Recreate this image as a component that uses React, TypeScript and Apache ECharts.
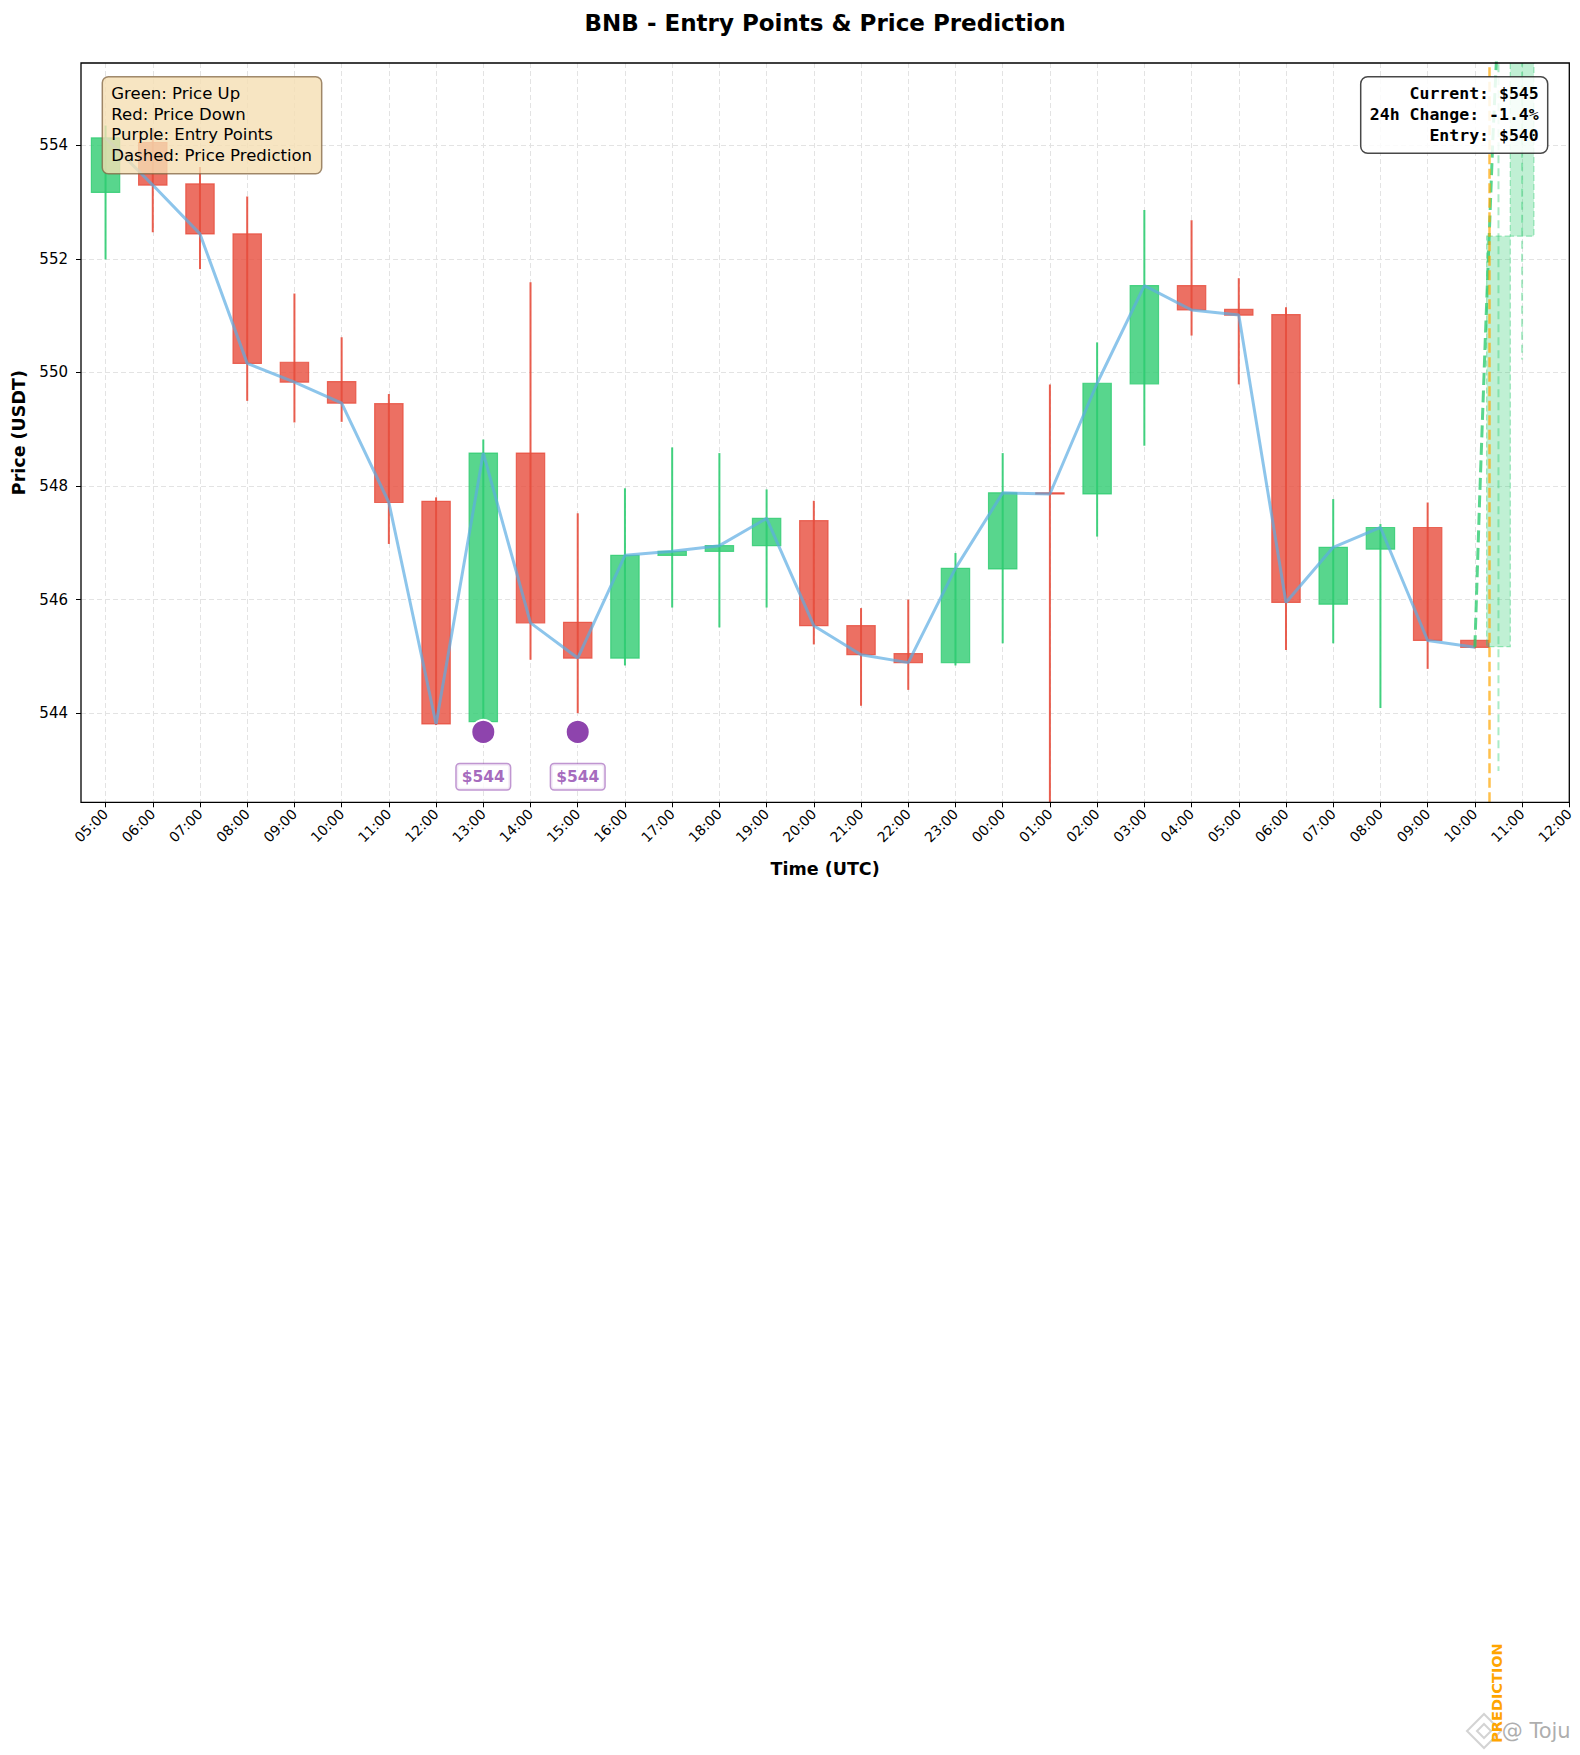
import React, { useEffect, useRef } from 'react';
import * as echarts from 'echarts';

// ---------- data ----------
const xTickLabels = [
  '05:00', '06:00', '07:00', '08:00', '09:00', '10:00', '11:00', '12:00', '13:00', '14:00',
  '15:00', '16:00', '17:00', '18:00', '19:00', '20:00', '21:00', '22:00', '23:00', '00:00',
  '01:00', '02:00', '03:00', '04:00', '05:00', '06:00', '07:00', '08:00', '09:00', '10:00',
  '11:00', '12:00',
];
// hour offsets from the first tick (05:00)
const candleHours = [
  0, 1, 2, 3, 4, 5, 6, 7, 8, 9, 10, 11, 12, 13, 14, 15, 16, 17, 18, 19, 20, 21, 22, 23, 24, 25, 26, 27, 28, 29,
];
const opens = [
  553.17, 554.05, 553.32, 552.44, 550.18, 549.84, 549.45, 547.73, 543.85, 548.58,
  545.6, 544.97, 546.78, 546.85, 546.95, 547.39, 545.54, 545.05, 544.89, 546.54,
  547.88, 547.86, 549.8, 551.53, 551.11, 551.02, 545.92, 546.89, 547.27, 545.28,
];
const closes = [
  554.13, 553.3, 552.44, 550.16, 549.83, 549.46, 547.71, 543.81, 548.58, 545.59,
  544.97, 546.78, 546.85, 546.95, 547.43, 545.54, 545.03, 544.89, 546.55, 547.88,
  547.86, 549.81, 551.53, 551.1, 551.01, 545.95, 546.92, 547.27, 545.28, 545.16,
];
const lows = [
  551.99, 552.47, 551.82, 549.5, 549.12, 549.13, 546.98, 543.79, 543.75, 544.94,
  544.0, 544.84, 545.86, 545.51, 545.86, 545.21, 544.13, 544.41, 544.84, 545.23,
  542.0, 547.11, 548.71, 550.65, 549.79, 545.11, 545.23, 544.09, 544.78, 545.14,
];
const highs = [
  554.35, 554.3, 553.62, 553.1, 551.39, 550.62, 549.62, 547.8, 548.82, 551.59,
  547.52, 547.96, 548.68, 548.58, 547.94, 547.74, 545.85, 546.0, 546.82, 548.58,
  549.79, 550.53, 552.86, 552.68, 551.66, 551.15, 547.77, 547.33, 547.71, 545.3,
];

const predCandleHours = [29.5, 30.0];
const predOpens = [545.17, 552.4];
const predCloses = [552.4, 557.5];
const predLows = [542.98, 550.23];
const predHighs = [556.8, 558.5];

const predLineHours = [29.0, 29.1, 29.22, 29.38, 29.5];
const predLinePrices = [545.16, 547.75, 550.57, 554.09, 556.3];
const predictionStartHour = 29.31;

const entryHours = [8, 10];
const entryMarkPrices = [543.67, 543.67];
const entryLabelPrices = [542.88, 542.88];
const entryLabels = ['$544', '$544'];

const legendLines = ['Green: Price Up', 'Red: Price Down', 'Purple: Entry Points', 'Dashed: Price Prediction'];
const infoLines = ['Current: $545', '24h Change: -1.4%', 'Entry: $540'];

const titleText = 'BNB - Entry Points & Price Prediction';
const xAxisName = 'Time (UTC)';
const yAxisName = 'Price (USDT)';
const predictionText = 'PREDICTION';
const watermarkText = '@ Toju';

const xMin = -0.52;
const xMax = 31;
const yMin = 542.43;
const yMax = 555.45;
const yTickMin = 544;
const yTickMax = 554;
const yTickStep = 2;

// ---------- layout ----------
const W = 1580;
const H = 1755;
const plotLeft = 81;
const plotTop = 63;
const plotRight = 1569.3;
const plotBottom = 802.3;
const plotW = plotRight - plotLeft;
const plotH = plotBottom - plotTop;
const FONT = '"DejaVu Sans", "Liberation Sans", sans-serif';
const MONO = '"DejaVu Sans Mono", "Liberation Mono", monospace';

function makeRenderCandle(bodyWidth: number, pred: boolean) {
  return (params: any, api: any) => {
    const x = api.value(0);
    const o = api.value(1);
    const c = api.value(2);
    const l = api.value(3);
    const h = api.value(4);
    const po = api.coord([x, o]);
    const pc = api.coord([x, c]);
    const pl = api.coord([x, l]);
    const ph = api.coord([x, h]);
    const w = api.size([bodyWidth, 0])[0];
    const up = c >= o;
    const rgb = up ? '46,204,113' : '231,76,60';
    const top = Math.min(po[1], pc[1]);
    const hh = Math.max(Math.abs(po[1] - pc[1]), 1);
    if (pred) {
      return {
        type: 'group',
        children: [
          {
            type: 'line',
            shape: { x1: po[0], y1: ph[1], x2: po[0], y2: pl[1] },
            style: { stroke: 'rgba(46,204,113,0.4)', lineWidth: 2, lineDash: [8, 5] },
          },
          {
            type: 'rect',
            shape: { x: po[0] - w / 2, y: top, width: w, height: hh },
            style: { fill: 'rgba(46,204,113,0.3)', stroke: 'rgba(46,204,113,0.45)', lineWidth: 1.2, lineDash: [6, 3] },
          },
        ],
      };
    }
    return {
      type: 'group',
      children: [
        {
          type: 'rect',
          shape: { x: po[0] - w / 2, y: top, width: w, height: hh },
          style: { fill: `rgba(${rgb},0.8)`, stroke: `rgba(${rgb},0.8)`, lineWidth: 1.2 },
        },
        {
          type: 'line',
          shape: { x1: po[0], y1: ph[1], x2: po[0], y2: pl[1] },
          style: { stroke: `rgba(${rgb},0.9)`, lineWidth: 2 },
        },
      ],
    };
  };
}

function buildOption(): any {
  const gridBLeft = plotLeft + ((0 - xMin) / (xMax - xMin)) * plotW;
  const gridCTop = plotTop + ((yMax - yTickMax) / (yMax - yMin)) * plotH;
  const gridCBottom = plotTop + ((yMax - yTickMin) / (yMax - yMin)) * plotH;

  const candleData = candleHours.map((hr, i) => [hr, opens[i], closes[i], lows[i], highs[i]]);
  const predCandleData = predCandleHours.map((hr, i) => [hr, predOpens[i], predCloses[i], predLows[i], predHighs[i]]);
  const closeLine = candleHours.map((hr, i) => [hr, closes[i]]);
  const predLine = predLineHours.map((hr, i) => [hr, predLinePrices[i]]);
  const entryMarks = entryHours.map((hr, i) => [hr, entryMarkPrices[i]]);
  const entryLabelData = entryHours.map((hr, i) => ({ value: [hr, entryLabelPrices[i]], name: entryLabels[i] }));

  const dash = [5, 3];
  const gridColor = '#e3e3e3';

  return {
    animation: false,
    backgroundColor: '#ffffff',
    textStyle: { fontFamily: FONT },
    grid: [
      {
        left: plotLeft, top: plotTop, width: plotW, height: plotH,
        show: false, containLabel: false, outerBoundsMode: 'none',
      },
      {
        left: gridBLeft, top: plotTop, width: plotRight - gridBLeft, height: plotH,
        show: false, containLabel: false, outerBoundsMode: 'none',
      },
      {
        left: plotLeft, top: gridCTop, width: plotW, height: gridCBottom - gridCTop,
        show: false, containLabel: false, outerBoundsMode: 'none',
      },
    ],
    xAxis: [
      {
        type: 'value', gridIndex: 0, min: xMin, max: xMax,
        axisLine: { show: false }, axisTick: { show: false }, axisLabel: { show: false }, splitLine: { show: false },
      },
      {
        type: 'value', gridIndex: 1, min: 0, max: xTickLabels.length - 1, interval: 1, position: 'bottom',
        axisLine: { show: false },
        axisTick: { show: true, length: 5, lineStyle: { color: '#000', width: 1 } },
        axisLabel: {
          show: true, rotate: 45, margin: 9, fontSize: 14, color: '#000', fontFamily: FONT,
          formatter: (v: number) => xTickLabels[Math.round(v)] ?? '',
        },
        splitLine: { show: true, showMaxLine: false, lineStyle: { color: gridColor, width: 1, type: dash } },
      },
      {
        type: 'value', gridIndex: 2, min: 0, max: 1, show: false,
      },
    ],
    yAxis: [
      {
        type: 'value', gridIndex: 0, min: yMin, max: yMax,
        axisLine: { show: false }, axisTick: { show: false }, axisLabel: { show: false }, splitLine: { show: false },
      },
      {
        type: 'value', gridIndex: 1, min: 0, max: 1, show: false,
      },
      {
        type: 'value', gridIndex: 2, min: yTickMin, max: yTickMax, interval: yTickStep, position: 'left',
        axisLine: { show: false },
        axisTick: { show: true, length: 5, lineStyle: { color: '#000', width: 1 } },
        axisLabel: { show: true, margin: 13, fontSize: 15, color: '#000', fontFamily: FONT },
        splitLine: { show: true, lineStyle: { color: gridColor, width: 1, type: dash } },
      },
    ],
    series: [
      {
        type: 'custom', name: 'candles', xAxisIndex: 0, yAxisIndex: 0, clip: true, z: 2,
        renderItem: makeRenderCandle(0.6, false),
        data: candleData,
        encode: { x: 0, y: [1, 2, 3, 4] },
      },
      {
        type: 'custom', name: 'predCandles', xAxisIndex: 0, yAxisIndex: 0, clip: true, z: 2,
        renderItem: makeRenderCandle(0.5, true),
        data: predCandleData,
        encode: { x: 0, y: [1, 2, 3, 4] },
      },
      {
        type: 'line', name: 'close', xAxisIndex: 0, yAxisIndex: 0, z: 3,
        data: closeLine, showSymbol: false, symbol: 'none',
        lineStyle: { color: 'rgba(93,173,226,0.7)', width: 3 },
      },
      {
        type: 'line', name: 'prediction', xAxisIndex: 0, yAxisIndex: 0, z: 4, clip: true,
        data: predLine, showSymbol: false, symbol: 'none',
        lineStyle: { color: 'rgba(46,204,113,0.8)', width: 3, type: [12, 5.5] },
        markLine: {
          silent: true, symbol: ['none', 'none'], label: { show: false },
          lineStyle: { color: 'rgba(255,165,0,0.7)', width: 2.5, type: [10, 4.5] },
          data: [{ xAxis: predictionStartHour }],
        },
      },
      {
        type: 'scatter', name: 'entries', xAxisIndex: 0, yAxisIndex: 0, z: 5,
        data: entryMarks, symbolSize: 24,
        itemStyle: { color: '#8E44AD', borderColor: '#ffffff', borderWidth: 2, opacity: 1 },
      },
      {
        type: 'scatter', name: 'entryLabels', xAxisIndex: 0, yAxisIndex: 0, z: 6,
        data: entryLabelData, symbolSize: 1,
        itemStyle: { color: 'rgba(0,0,0,0)' },
        label: {
          show: true, position: 'inside', formatter: (p: any) => p.name,
          fontSize: 15.5, fontWeight: 'bold', color: '#8E44AD', fontFamily: FONT,
          backgroundColor: '#ffffff', borderColor: 'rgba(142,68,173,0.7)', borderWidth: 1.5, borderRadius: 3,
          padding: [4, 5, 3, 5], lineHeight: 18,
        },
      },
    ],
    graphic: [
      {
        type: 'rect', z: 90, silent: true,
        shape: { x: plotLeft, y: plotTop, width: plotW, height: plotH },
        style: { fill: 'none', stroke: '#000', lineWidth: 1.3 },
      },
      {
        type: 'text', z: 100, x: (plotLeft + plotRight) / 2, y: 23,
        style: {
          text: titleText, fontSize: 23, fontWeight: 'bold', fontFamily: FONT, fill: '#000',
          textAlign: 'center', textVerticalAlign: 'middle', align: 'center', verticalAlign: 'middle',
        },
      },
      {
        type: 'text', z: 100, x: (plotLeft + plotRight) / 2, y: 869,
        style: {
          text: xAxisName, fontSize: 17.5, fontWeight: 'bold', fontFamily: FONT, fill: '#000',
          textAlign: 'center', textVerticalAlign: 'middle', align: 'center', verticalAlign: 'middle',
        },
      },
      {
        type: 'text', z: 100, x: 19, y: (plotTop + plotBottom) / 2, rotation: Math.PI / 2,
        style: {
          text: yAxisName, fontSize: 17.5, fontWeight: 'bold', fontFamily: FONT, fill: '#000',
          textAlign: 'center', textVerticalAlign: 'middle', align: 'center', verticalAlign: 'middle',
        },
      },
      {
        type: 'rect', z: 100,
        shape: { x: 102.3, y: 76.7, width: 219.4, height: 97, r: 6 },
        style: { fill: 'rgba(245,222,179,0.8)', stroke: 'rgba(128,100,66,0.75)', lineWidth: 1.5 },
      },
      {
        type: 'text', z: 101, x: 111.3, y: 82.9,
        style: {
          text: legendLines.join('\n'), fontSize: 16.5, fontFamily: FONT, fill: '#000', lineHeight: 20.8,
          textAlign: 'left', textVerticalAlign: 'top', align: 'left', verticalAlign: 'top',
        },
      },
      {
        type: 'rect', z: 100,
        shape: { x: 1360.7, y: 76.7, width: 187, height: 76.6, r: 7 },
        style: { fill: 'rgba(255,255,255,0.85)', stroke: 'rgba(40,40,40,0.85)', lineWidth: 1.5 },
      },
      {
        type: 'text', z: 101, x: 1538.7, y: 82.9,
        style: {
          text: infoLines.join('\n'), fontSize: 16.5, fontWeight: 'bold', fontFamily: MONO, fill: '#000', lineHeight: 20.9,
          textAlign: 'right', textVerticalAlign: 'top', align: 'right', verticalAlign: 'top',
        },
      },
      {
        type: 'text', z: 100, x: 1497, y: 1693, rotation: Math.PI / 2,
        style: {
          text: predictionText, fontSize: 14.5, fontWeight: 'bold', fontFamily: FONT, fill: '#FFA500',
          textAlign: 'center', textVerticalAlign: 'middle', align: 'center', verticalAlign: 'middle',
        },
      },
      {
        type: 'group', z: 99,
        children: [
          {
            type: 'polygon', z: 99,
            shape: { points: [[1484, 1714], [1501, 1731], [1484, 1748], [1467, 1731]] },
            style: { fill: 'none', stroke: 'rgba(200,200,200,0.8)', lineWidth: 2 },
          },
          {
            type: 'polygon', z: 99,
            shape: { points: [[1484, 1724], [1491, 1731], [1484, 1738], [1477, 1731]] },
            style: { fill: 'none', stroke: 'rgba(200,200,200,0.8)', lineWidth: 2 },
          },
        ],
      },
      {
        type: 'text', z: 100, x: 1501.7, y: 1731,
        style: {
          text: watermarkText, fontSize: 21, fontFamily: FONT, fill: 'rgba(160,160,160,0.85)',
          textAlign: 'left', textVerticalAlign: 'middle', align: 'left', verticalAlign: 'middle',
        },
      },
    ],
  };
}

export default function App() {
  const ref = useRef<HTMLDivElement | null>(null);
  useEffect(() => {
    document.body.style.margin = '0';
    if (!ref.current) return;
    const chart = echarts.init(ref.current, null, { renderer: 'svg' });
    chart.setOption(buildOption());
    return () => {
      chart.dispose();
    };
  }, []);
  return (
    <div
      ref={ref}
      style={{ position: 'absolute', left: 0, top: 0, width: W + 'px', height: H + 'px', background: '#fff' }}
    />
  );
}
